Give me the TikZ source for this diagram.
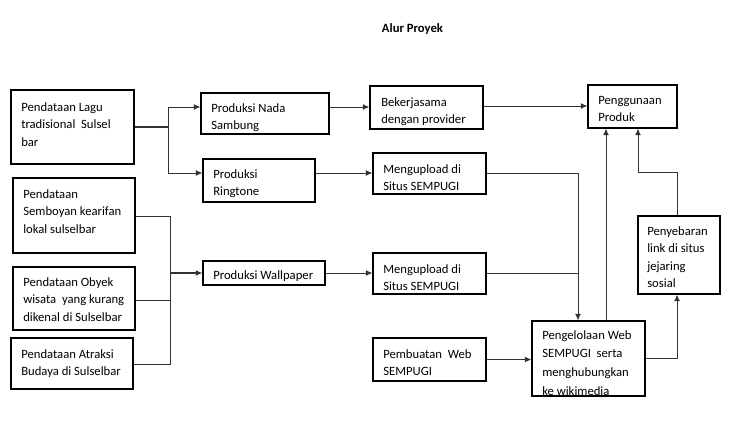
\documentclass[tikz,border=0pt]{standalone}
\usepackage{fontspec}
\setmainfont{Carlito}
\usetikzlibrary{arrows.meta,fit}
\begin{document}
\begin{tikzpicture}[x=0.75pt,y=-0.75pt,
  box/.style={draw=black,line width=0.8pt,inner sep=0pt,rectangle},
  txt/.style={anchor=north west,inner sep=0pt,align=left,font=\fontsize{9.5}{13.2}\selectfont},
  conn/.style={draw=black!80,line width=0.75pt},
  arr/.style={conn,-{Latex[length=5pt,width=4.5pt]}},
  thk/.style={line width=1.5pt}]
\useasboundingbox (0,0) rectangle (750,443);
\node[anchor=base,inner sep=0pt,font=\fontsize{9.5}{12}\selectfont\bfseries] (title) at (412.5,32) {Alur Proyek};
% boxes
\node[box,fit={(11,90) (134,164)}] (b1) {};
\node[box,fit={(201,93) (329,134)}] (b2) {};
\node[box,fit={(203,159) (315,202)}] (b3) {};
\node[box,fit={(13,178) (135,253)}] (b4) {};
\node[box,fit={(13,267) (135,330)}] (b5) {};
\node[box,fit={(11,338) (133,389)}] (b6) {};
\node[box,fit={(203,261) (325,285)}] (b7) {};
\node[box,fit={(370,86) (483,129)}] (b8) {};
\node[box,fit={(588,85) (677,128)}] (b9) {};
\node[box,fit={(373,153) (486,194)}] (b10) {};
\node[box,fit={(373,253) (486,294)}] (b11) {};
\node[box,fit={(638,216) (720,294)}] (b12) {};
\node[box,fit={(373,338) (486,381)}] (b13) {};
\node[box,fit={(532,321) (645,396)}] (b14) {};
% texts
\node[txt] (t1) at (21,102) {Pendataan Lagu\\tradisional\ \ Sulsel\\bar};
\node[txt] (t2) at (211,103) {Produksi Nada\\Sambung};
\node[txt] (t3) at (213,169) {Produksi\\Ringtone};
\node[txt] (t4) at (23,189) {Pendataan\\Semboyan kearifan\\lokal sulselbar};
\node[txt] (t5) at (23,277) {Pendataan Obyek\\wisata\ \ yang kurang\\dikenal di Sulselbar};
\node[txt] (t6) at (21,349) {Pendataan Atraksi\\Budaya di Sulselbar};
\node[txt] (t7) at (213,270) {Produksi Wallpaper};
\node[txt] (t8) at (381,97) {Bekerjasama\\dengan provider};
\node[txt] (t9) at (598,96) {Penggunaan\\Produk};
\node[txt] (t10) at (383,164) {Mengupload di\\Situs SEMPUGI};
\node[txt] (t11) at (383,264) {Mengupload di\\Situs SEMPUGI};
\node[txt] (t12) at (647,226) {Penyebaran\\link di situs\\jejaring\\sosial};
\node[txt] (t13) at (383,349) {Pembuatan\ \ Web\\SEMPUGI};
\begin{scope}
\clip (532,321) rectangle (645,396);
\node[txt,font=\fontsize{9.5}{13.9}\selectfont] (t14) at (542,330) {Pengelolaan Web\\SEMPUGI\ \ serta\\menghubungkan\\[1pt]ke wikimedia};
\end{scope}
% coordinates
\coordinate (j1) at (168,107);
\coordinate (j2) at (168,173);
\coordinate (k1) at (578,173);
\coordinate (k2) at (578,273);
\coordinate (k3) at (606,321);
\coordinate (k4) at (677,172);
\coordinate (k5) at (638,172);
\coordinate (m1) at (170,216);
\coordinate (m2) at (170,364);
\coordinate (m3) at (170,273);
\coordinate (m4) at (170,300);
% connectors
\draw[conn,thk] (b1.east) -- (b1.east -| j1);
\draw[conn] (j1) -- (j2);
\draw[arr] (j1) -- (j1 -| b2.west);
\draw[arr] (j2) -- (j2 -| b3.west);
\draw[arr] (b2.east |- j1) -- (b8.west |- j1);
\draw[arr] (b3.east |- j2) -- (b10.west |- j2);
\draw[arr] (b8.east |- 0,106) -- (b9.west |- 0,106);
\draw[arr] (b10.east |- k1) -- (k1) -- (k1 |- b14.north);
\draw[conn] (b11.east |- k2) -- (k2);
\draw[arr] (k3 |- b14.north) -- (k3 |- b9.south);
\draw[arr] (b12.north -| k4) -- (k4) -- (k5) -- (k5 |- b9.south);
\draw[arr] (b14.east) -| (b12.south -| k4);
\draw[arr] (b13.east) -- (b14.west |- b13.east);
\draw[conn] (b4.east |- m1) -- (m1) -- (m2) -- (b6.east |- m2);
\draw[conn] (b5.east |- m4) -- (m4);
\draw[arr,thk] (m3) -- (m3 -| b7.west);
\draw[arr] (b7.east |- m3) -- (b11.west |- m3);
\end{tikzpicture}
\end{document}
